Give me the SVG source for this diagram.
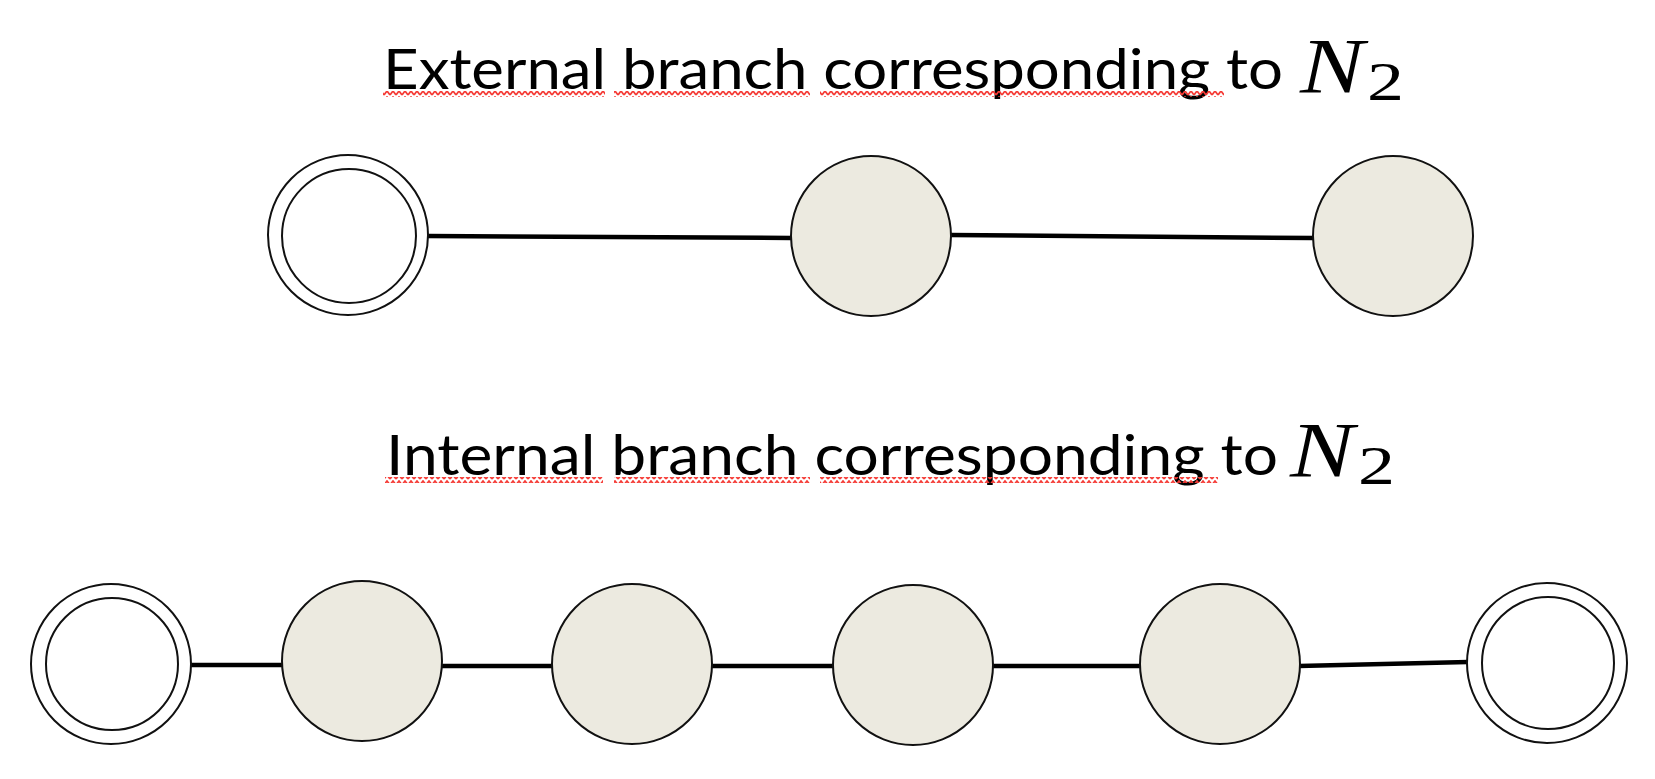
<svg xmlns="http://www.w3.org/2000/svg" width="1655" height="779" viewBox="0 0 1655 779">
<defs>
<style>
.title{font-family:Lato,"Liberation Sans",sans-serif;font-size:57px;fill:#000}
.mathN{font-family:"Liberation Serif",serif;font-style:italic;font-size:78px;fill:#000}
.sub{font-family:"Liberation Serif",serif;font-size:54px;fill:#000}
.node{fill:#ECEAE0;stroke:#111;stroke-width:2}
.ring{fill:#fff;stroke:#111;stroke-width:2}
.edge{stroke:#000;stroke-width:4.5;fill:none}
</style>
<pattern id="wavy" patternUnits="userSpaceOnUse" width="6" height="6">
<path d="M0,5 L3,1 L6,5" fill="none" stroke="#F53A35" stroke-width="1.7"/>
</pattern>
</defs>
<rect width="1655" height="779" fill="#fff"/>

<g id="title-external">
<text class="title" x="383" y="89" textLength="900" lengthAdjust="spacingAndGlyphs">External branch corresponding to</text>
<text class="mathN" x="1300" y="92" textLength="64" lengthAdjust="spacingAndGlyphs">N</text>
<text class="sub" x="1367" y="100" textLength="37" lengthAdjust="spacingAndGlyphs">2</text>
<rect x="383" y="91" width="222" height="6" fill="url(#wavy)"/>
<rect x="614" y="91" width="196" height="6" fill="url(#wavy)"/>
<rect x="820" y="91" width="404" height="6" fill="url(#wavy)"/>
</g>

<g id="title-internal">
<text class="title" x="386" y="475" textLength="892" lengthAdjust="spacingAndGlyphs">Internal branch corresponding to</text>
<text class="mathN" x="1290" y="476" textLength="64" lengthAdjust="spacingAndGlyphs">N</text>
<text class="sub" x="1358" y="484" textLength="37" lengthAdjust="spacingAndGlyphs">2</text>
<rect x="385" y="477" width="218" height="6" fill="url(#wavy)"/>
<rect x="614" y="477" width="196" height="6" fill="url(#wavy)"/>
<rect x="820" y="477" width="398" height="6" fill="url(#wavy)"/>
</g>

<g id="connectors">
<line class="edge" x1="428" y1="236" x2="792" y2="238"/>
<line class="edge" x1="950" y1="235" x2="1314" y2="238"/>
<line class="edge" x1="190" y1="665" x2="283" y2="665"/>
<line class="edge" x1="441" y1="666" x2="553" y2="666"/>
<line class="edge" x1="711" y1="666" x2="834" y2="666"/>
<line class="edge" x1="992" y1="666" x2="1141" y2="666"/>
<line class="edge" x1="1299" y1="666" x2="1468" y2="662"/>
</g>

<g id="top-n1"><circle class="ring" cx="348" cy="235" r="80"/><circle class="ring" cx="349" cy="236" r="67"/></g>
<g id="top-n2"><circle class="node" cx="871" cy="236" r="80"/></g>
<g id="top-n3"><circle class="node" cx="1393" cy="236" r="80"/></g>

<g id="bot-n1"><circle class="ring" cx="111" cy="664" r="80"/><circle class="ring" cx="112" cy="664" r="66"/></g>
<g id="bot-n2"><circle class="node" cx="362" cy="661" r="80"/></g>
<g id="bot-n3"><circle class="node" cx="632" cy="664" r="80"/></g>
<g id="bot-n4"><circle class="node" cx="913" cy="665" r="80"/></g>
<g id="bot-n5"><circle class="node" cx="1220" cy="664" r="80"/></g>
<g id="bot-n6"><circle class="ring" cx="1547" cy="663" r="80"/><circle class="ring" cx="1548" cy="663" r="66"/></g>
</svg>
